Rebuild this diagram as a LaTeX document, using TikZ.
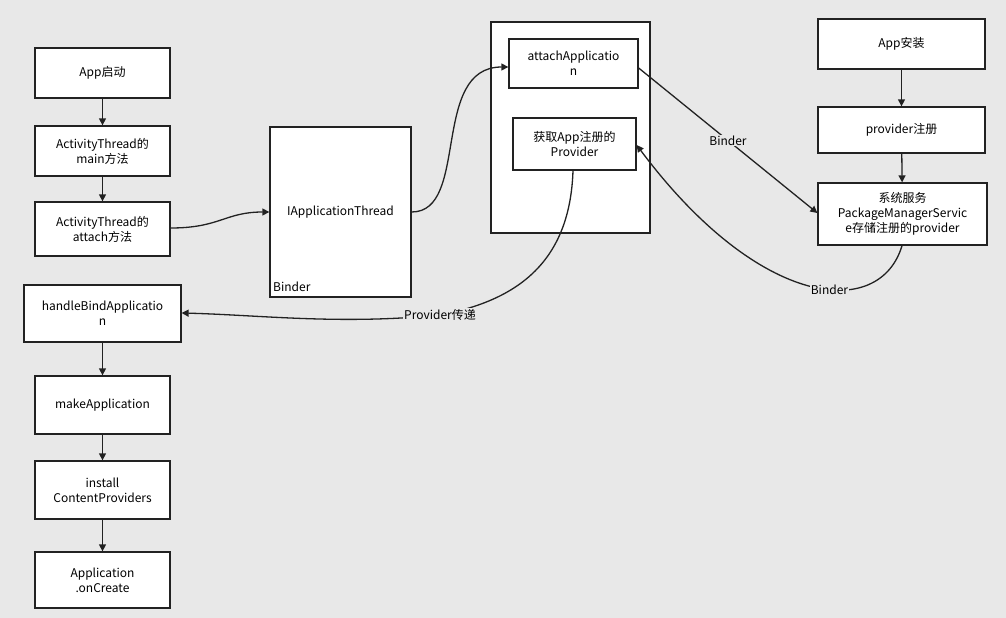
\documentclass[tikz,border=0pt]{standalone}
\usepackage{fontspec}
\setmainfont{Noto Sans CJK SC}
\usetikzlibrary{arrows.meta}
\definecolor{bg}{HTML}{E8E8E8}
\definecolor{ln}{HTML}{222222}
\begin{document}
\begin{tikzpicture}[x=1pt,y=-1pt,
  bx/.style={draw=ln,line width=1.3pt,fill=white,inner sep=0pt,font=\fontsize{12}{15}\selectfont,align=center},
  ar/.style={draw=ln,line width=1.3pt,-{Triangle[length=7pt,width=7pt]}},
  lb/.style={fill=bg,inner sep=1pt,font=\fontsize{12}{14}\selectfont}]
\fill[bg] (0,0) rectangle (1006,618);
\useasboundingbox (0,0) rectangle (1006,618);
\newcommand{\bxat}[5]{\node[bx,minimum width={#4-#2},minimum height={#5-#3}] (#1) at ({(#2+#4)/2},{(#3+#5)/2})}
\bxat{a1}{35}{48}{170}{98}{App启动};
\bxat{a2}{35}{126}{170}{176}{ActivityThread的\\main方法};
\bxat{a3}{35}{202}{170}{256}{ActivityThread的\\attach方法};
\bxat{it}{270}{127}{411}{297}{IApplicationThread};
\node[anchor=south west,inner sep=0pt,font=\fontsize{12}{14}\selectfont] (bd) at (273,292) {Binder};
\bxat{big}{491}{22}{650}{233}{};
\bxat{aa}{509}{39}{638}{88}{attachApplicatio\\n};
\bxat{gp}{513}{118}{636}{170}{获取App注册的\\Provider};
\bxat{s1}{818}{19}{985}{69}{App安装};
\bxat{s2}{818}{107}{985}{153}{provider注册};
\bxat{s3}{818}{183}{987}{245}{系统服务\\PackageManagerServic\\e存储注册的provider};
\bxat{h1}{24}{285}{181}{342}{handleBindApplicatio\\n};
\bxat{h2}{35}{376}{170}{434}{makeApplication};
\bxat{h3}{35}{461}{170}{519}{install\\ContentProviders};
\bxat{h4}{35}{552}{170}{608}{Application\\.onCreate};
\draw[ar] (a1) -- (a2);
\draw[ar] (a2) -- (a3);
\draw[ar] (s1) -- (s2);
\draw[ar] (s2) -- (s3);
\draw[ar] (h1) -- (h2);
\draw[ar] (h2) -- (h3);
\draw[ar] (h3) -- (h4);
\draw[ar] (a3.east |- 0,228) .. controls (220,228) and (225,212) .. (it.west |- 0,212);
\draw[ar] (it.east |- 0,212) .. controls (470,212) and (430,67) .. (aa.west |- 0,67);
\draw[ar] (aa.east |- 0,68) -- node[lb,pos=0.5]{Binder} (s3.west |- 0,213);
\draw[ar] (s3.south -| 902,0) .. controls (880,320) and (760,310) .. node[lb,pos=0.42]{Binder} (gp.east |- 0,145);
\draw[ar] (gp.south -| 573,0) .. controls (570,260) and (520,300) .. (440,315) node[lb]{Provider传递} .. controls (340,325) and (260,315) .. (h1.east |- 0,313);
\end{tikzpicture}
\end{document}
